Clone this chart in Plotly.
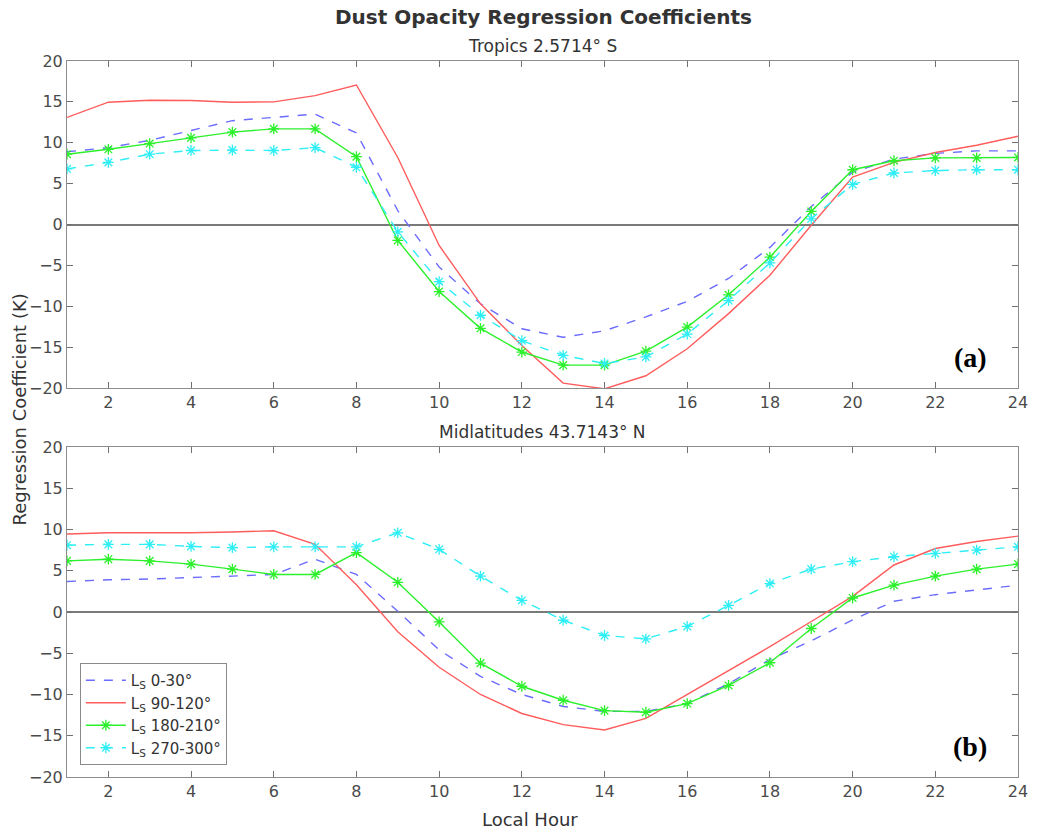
import plotly.graph_objects as go

hours = list(range(1, 25))
series_names = ["L<sub>S</sub> 0-30°", "L<sub>S</sub> 90-120°", "L<sub>S</sub> 180-210°", "L<sub>S</sub> 270-300°"]

# Panel (a): Tropics 2.5714° S
trop_0_30 = [8.9, 9.4, 10.3, 11.5, 12.7, 13.1, 13.5, 11.2, 1.7, -5.2, -9.7, -12.75,
             -13.8, -13.0, -11.3, -9.4, -6.6, -2.8, 2.2, 6.4, 8.0, 8.7, 9.0, 9.0]
trop_90_120 = [13.1, 14.96, 15.2, 15.16, 14.96, 15.0, 15.77, 17.07, 8.2, -2.57, -9.7, -14.8,
               -19.4, -20.1, -18.5, -15.2, -10.9, -6.2, -0.1, 5.8, 7.6, 8.8, 9.7, 10.8]
trop_180_210 = [8.6, 9.2, 9.9, 10.6, 11.3, 11.7, 11.7, 8.3, -1.95, -8.2, -12.7, -15.6,
                -17.2, -17.2, -15.5, -12.55, -8.6, -4.0, 1.6, 6.7, 7.8, 8.15, 8.15, 8.2]
trop_270_300 = [6.8, 7.6, 8.6, 9.05, 9.1, 9.05, 9.4, 7.0, -0.9, -7.0, -11.1, -14.2,
                -16.0, -17.0, -16.2, -13.4, -9.3, -4.7, 0.7, 4.9, 6.3, 6.6, 6.7, 6.7]

# Panel (b): Midlatitudes 43.7143° N
mid_0_30 = [3.7, 3.9, 4.0, 4.15, 4.35, 4.55, 6.4, 4.55, 0.1, -4.6, -7.8, -10.0,
            -11.45, -12.05, -12.05, -11.1, -8.7, -5.75, -3.5, -0.95, 1.3, 2.1, 2.7, 3.25]
mid_90_120 = [9.45, 9.6, 9.6, 9.6, 9.7, 9.85, 8.2, 3.3, -2.4, -6.7, -10.0, -12.3,
              -13.65, -14.3, -12.9, -10.0, -7.05, -4.2, -1.15, 1.9, 5.7, 7.7, 8.55, 9.2]
mid_180_210 = [6.2, 6.4, 6.2, 5.8, 5.2, 4.55, 4.55, 7.2, 3.6, -1.2, -6.2, -9.0,
               -10.7, -11.95, -12.15, -11.1, -8.9, -6.15, -2.0, 1.7, 3.25, 4.35, 5.2, 5.8]
mid_270_300 = [8.1, 8.2, 8.2, 7.95, 7.8, 7.9, 7.9, 7.9, 9.6, 7.6, 4.35, 1.4,
               -1.0, -2.85, -3.25, -1.75, 0.8, 3.45, 5.2, 6.1, 6.7, 7.1, 7.5, 7.9]

x_ticks = list(range(2, 25, 2))
y_ticks = list(range(-20, 21, 5))

colors = ["#6b6bff", "#ff5c5c", "#2cf02c", "#2eeef6"]
dashes = ["dash", "solid", "solid", "dash"]
markers = [False, False, True, True]

fig = go.Figure()

panels = [
    ([trop_0_30, trop_90_120, trop_180_210, trop_270_300], "x", "y", False),
    ([mid_0_30, mid_90_120, mid_180_210, mid_270_300], "x2", "y2", True),
]
for data, xa, ya, show in panels:
    for i, vals in enumerate(data):
        fig.add_trace(go.Scatter(
            x=hours, y=vals, xaxis=xa, yaxis=ya,
            mode="lines+markers" if markers[i] else "lines",
            name=series_names[i], showlegend=show,
            line=dict(color=colors[i], width=1.4, dash=dashes[i]),
            marker=dict(symbol="asterisk-open", size=9,
                        line=dict(color=colors[i], width=1.3)),
            cliponaxis=True,
        ))

tick_font = dict(family="DejaVu Sans", size=16, color="#4a4a4a")
axis_common = dict(
    range=[1, 24], showline=True, linecolor="#8c8c8c", linewidth=1, mirror="ticks",
    ticks="inside", ticklen=6, tickcolor="#707070", showgrid=False, zeroline=False,
    tickfont=tick_font,
)
yaxis_common = dict(
    range=[-20, 20], showline=True, linecolor="#8c8c8c", linewidth=1, mirror="ticks",
    ticks="inside", ticklen=6, tickcolor="#707070", showgrid=False,
    zeroline=True, zerolinecolor="#7a7a7a", zerolinewidth=1.5,
    tickvals=y_ticks, tickfont=tick_font,
)

W, H = 1040, 832
PL, PR, PT, PB = 67, 1028, 61, 777  # plot box in page pixels
PW, PH = PR - PL, PB - PT


def px(xp):
    return (xp - PL) / PW


def py(yp):
    return (PB - yp) / PH


fig.update_layout(
    width=W, height=H,
    margin=dict(l=PL, r=W - PR, t=PT, b=H - PB),
    paper_bgcolor="white", plot_bgcolor="white",
    font=dict(family="DejaVu Sans", color="#333333"),
    xaxis=dict(domain=[0, 1], anchor="y", tickvals=x_ticks, **axis_common),
    yaxis=dict(domain=[py(388), 1], anchor="x", **yaxis_common),
    xaxis2=dict(domain=[0, 1], anchor="y2", tickvals=x_ticks, **axis_common),
    yaxis2=dict(domain=[0, py(447)], anchor="x2", **yaxis_common),
    legend=dict(x=px(80), y=py(663), xanchor="left", yanchor="top",
                bgcolor="white", bordercolor="#8a8a8a", borderwidth=1,
                font=dict(family="DejaVu Sans", size=15, color="#333333"),
                tracegroupgap=0, itemwidth=40),
    showlegend=True,
    hovermode=False,
    annotations=[
        dict(text="<b>Dust Opacity Regression Coefficients</b>", xref="paper", yref="paper",
             x=px(549), y=py(17), xanchor="center", yanchor="middle", showarrow=False,
             font=dict(family="DejaVu Sans", size=20, color="#333333")),
        dict(text="Tropics 2.5714° S", xref="paper", yref="paper",
             x=px(548), y=py(46), xanchor="center", yanchor="middle", showarrow=False,
             font=dict(family="DejaVu Sans", size=17, color="#333333")),
        dict(text="Midlatitudes 43.7143° N", xref="paper", yref="paper",
             x=px(548), y=py(432), xanchor="center", yanchor="middle", showarrow=False,
             font=dict(family="DejaVu Sans", size=17, color="#333333")),
        dict(text="Regression Coefficient (K)", xref="paper", yref="paper",
             x=px(18), y=py(410), xanchor="center", yanchor="middle",
             textangle=-90, showarrow=False,
             font=dict(family="DejaVu Sans", size=18, color="#333333")),
        dict(text="Local Hour", xref="paper", yref="paper",
             x=px(535), y=py(819), xanchor="center", yanchor="middle", showarrow=False,
             font=dict(family="DejaVu Sans", size=18, color="#333333")),
        dict(text="<b>(a)</b>", xref="paper", yref="paper",
             x=px(980), y=py(357), xanchor="center", yanchor="middle",
             showarrow=False, font=dict(family="Liberation Serif", size=28, color="black")),
        dict(text="<b>(b)</b>", xref="paper", yref="paper",
             x=px(980), y=py(746), xanchor="center", yanchor="middle",
             showarrow=False, font=dict(family="Liberation Serif", size=28, color="black")),
    ],
)

# remove the default 8px page margin so the figure fills the 1040x832 window exactly
fig.write_html("out.html", config={"displayModeBar": False},
               post_script="document.body.style.margin='0';document.body.style.overflow='hidden';")
